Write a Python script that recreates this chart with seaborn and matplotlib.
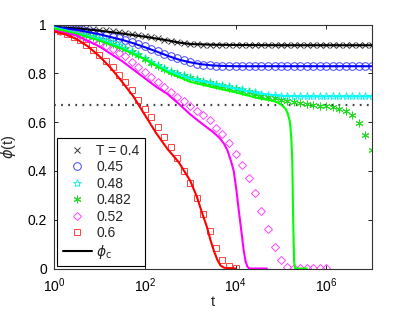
import numpy as np
import matplotlib as mpl
import matplotlib.pyplot as plt
from matplotlib.lines import Line2D
import seaborn as sns

# temperatures shown in the legend
temps = ["T = 0.4", "0.45", "0.48", "0.482", "0.52", "0.6"]
phi_c = 0.672

# simulation time grid, log10(t), 7 points per decade
log_t_sim = [0.00, 0.14, 0.29, 0.43, 0.57, 0.71, 0.86, 1.00, 1.14, 1.29,
             1.43, 1.57, 1.71, 1.86, 2.00, 2.14, 2.29, 2.43, 2.57, 2.71,
             2.86, 3.00, 3.14, 3.29, 3.43, 3.57, 3.71, 3.86, 4.00, 4.14,
             4.29, 4.43, 4.57, 4.71, 4.86, 5.00, 5.14, 5.29, 5.43, 5.57,
             5.71, 5.86, 6.00, 6.14, 6.29, 6.43, 6.57, 6.71, 6.86, 7.00]

# simulation points (markers)
sim_04 = [0.995, 0.993, 0.991, 0.989, 0.987, 0.985, 0.982, 0.979, 0.976, 0.973,
          0.970, 0.966, 0.962, 0.958, 0.953, 0.948, 0.943, 0.938, 0.933, 0.928,
          0.924, 0.921, 0.919, 0.918, 0.917, 0.917, 0.917, 0.917, 0.917, 0.917,
          0.917, 0.917, 0.917, 0.916, 0.916, 0.916, 0.916, 0.916, 0.916, 0.916,
          0.916, 0.916, 0.916, 0.916, 0.916, 0.916, 0.916, 0.916, 0.916, 0.916]
sim_045 = [0.995, 0.990, 0.986, 0.982, 0.978, 0.973, 0.968, 0.962, 0.956, 0.950,
           0.943, 0.936, 0.928, 0.920, 0.911, 0.901, 0.891, 0.880, 0.870, 0.861,
           0.853, 0.846, 0.840, 0.836, 0.833, 0.831, 0.830, 0.829, 0.829, 0.829,
           0.829, 0.829, 0.829, 0.829, 0.829, 0.829, 0.829, 0.829, 0.829, 0.829,
           0.829, 0.829, 0.829, 0.829, 0.829, 0.829, 0.829, 0.829, 0.829, 0.829]
sim_048 = [0.990, 0.986, 0.981, 0.975, 0.969, 0.962, 0.954, 0.946, 0.937, 0.927,
           0.916, 0.905, 0.893, 0.880, 0.862, 0.848, 0.834, 0.822, 0.811, 0.801,
           0.792, 0.784, 0.777, 0.770, 0.764, 0.758, 0.752, 0.746, 0.740, 0.734,
           0.728, 0.722, 0.717, 0.713, 0.710, 0.708, 0.707, 0.706, 0.706, 0.706,
           0.706, 0.706, 0.706, 0.706, 0.706, 0.706, 0.706, 0.706, 0.706, 0.706]
sim_0482 = [0.985, 0.980, 0.975, 0.969, 0.962, 0.955, 0.947, 0.938, 0.929, 0.919,
            0.909, 0.898, 0.886, 0.874, 0.858, 0.844, 0.830, 0.817, 0.806, 0.796,
            0.787, 0.779, 0.772, 0.765, 0.759, 0.753, 0.747, 0.741, 0.735, 0.729,
            0.723, 0.714, 0.709, 0.703, 0.697, 0.692, 0.687, 0.682, 0.678, 0.674,
            0.671, 0.668, 0.665, 0.660, 0.654, 0.645, 0.630, 0.597, 0.547, 0.486]
sim_052 = [0.980, 0.975, 0.970, 0.963, 0.955, 0.946, 0.936, 0.925, 0.912, 0.898,
           0.884, 0.869, 0.845, 0.826, 0.806, 0.786, 0.765, 0.744, 0.724, 0.704,
           0.685, 0.666, 0.647, 0.628, 0.609, 0.575, 0.550, 0.515, 0.470, 0.424,
           0.369, 0.308, 0.235, 0.160, 0.088, 0.036, 0.006, 0.003, 0.003, 0.003,
           0.003, 0.003, 0.003]
sim_06 = [0.980, 0.972, 0.962, 0.950, 0.935, 0.915, 0.895, 0.875, 0.850, 0.825,
          0.795, 0.765, 0.730, 0.690, 0.655, 0.620, 0.580, 0.540, 0.500, 0.451,
          0.400, 0.350, 0.288, 0.222, 0.152, 0.086, 0.036, 0.012, 0.004]

# theory curves (solid lines)
log_t_04 = [0, 0.5, 1, 1.5, 2, 2.5, 2.75, 3, 3.5, 4, 5, 6, 7]
th_04 = [0.99, 0.984, 0.975, 0.963, 0.95, 0.935, 0.926, 0.92, 0.917, 0.916, 0.915, 0.915, 0.915]
log_t_045 = [0, 0.5, 1, 1.5, 1.75, 2, 2.25, 2.5, 2.75, 3, 3.25, 3.5, 3.75, 4, 5, 6, 7]
th_045 = [0.99, 0.978, 0.96, 0.937, 0.923, 0.907, 0.89, 0.872, 0.856, 0.845, 0.837, 0.832,
          0.83, 0.829, 0.829, 0.829, 0.829]
log_t_048 = [0, 0.5, 1, 1.5, 2, 2.5, 3, 3.5, 4, 4.5, 5, 5.5, 6, 7]
th_048 = [0.988, 0.965, 0.94, 0.905, 0.86, 0.812, 0.778, 0.758, 0.737, 0.718, 0.707, 0.705,
          0.705, 0.705]
log_t_0482 = [0, 0.5, 1, 1.5, 2, 2.5, 3, 3.5, 4, 4.5, 4.75, 4.9, 5.0, 5.1, 5.15, 5.2,
              5.23, 5.25, 5.27, 5.29, 5.31, 5.57]
th_0482 = [0.985, 0.962, 0.935, 0.9, 0.858, 0.805, 0.765, 0.743, 0.722, 0.698, 0.69, 0.683,
           0.672, 0.655, 0.635, 0.6, 0.53, 0.44, 0.2, 0.03, 0.0, 0.0]
log_t_052 = [0, 0.5, 1, 1.25, 1.5, 1.75, 2, 2.25, 2.5, 2.75, 3, 3.25, 3.5, 3.65, 3.75,
             3.82, 3.9, 3.96, 4.02, 4.07, 4.13, 4.18, 4.22, 4.26, 4.3, 4.69]
th_052 = [0.975, 0.955, 0.91, 0.88, 0.85, 0.815, 0.78, 0.745, 0.715, 0.675, 0.632, 0.595,
          0.56, 0.535, 0.51, 0.485, 0.44, 0.40, 0.32, 0.24, 0.15, 0.074, 0.03, 0.008, 0.0, 0.0]
log_t_06 = [0, 0.25, 0.5, 0.75, 1, 1.25, 1.5, 1.75, 2, 2.25, 2.5, 2.75, 3, 3.15, 3.25,
            3.37, 3.45, 3.52, 3.6, 3.67, 3.75, 4.0]
th_06 = [0.972, 0.96, 0.94, 0.91, 0.87, 0.822, 0.765, 0.705, 0.63, 0.555, 0.49, 0.435,
         0.36, 0.293, 0.235, 0.17, 0.115, 0.074, 0.035, 0.012, 0.003, 0.0]

sns.set_theme(style="ticks")
mpl.rcParams.update({
    "font.family": ["Liberation Sans", "DejaVu Sans"],
    "mathtext.fontset": "dejavusans",
    "font.size": 10,
    "xtick.direction": "in",
    "ytick.direction": "in",
    "xtick.top": True,
    "ytick.right": True,
    "xtick.labelsize": 10,
    "ytick.labelsize": 10,
    "axes.edgecolor": "#333333",
    "axes.linewidth": 0.8,
})

fig = plt.figure(figsize=(4.11, 3.09), dpi=100)
ax = fig.add_axes([54 / 411, 1 - 268.5 / 309, 317.7 / 411, 244 / 309])
ax.set_xscale("log")

colors = ["black", "blue", "cyan", "lime", "magenta", "red"]
marker_colors = ["#333333", "#4444ff", "#22eeee", "#22dd22", "#ff44ff", "#ff4444"]
markers = ["x", "o", "*", (6, 2, 0), "D", "s"]
msizes = [4.5, 5.5, 6, 5.5, 4.5, 5]

sims = [sim_04, sim_045, sim_048, sim_0482, sim_052, sim_06]
lines = [(log_t_04, th_04), (log_t_045, th_045), (log_t_048, th_048),
         (log_t_0482, th_0482), (log_t_052, th_052), (log_t_06, th_06)]

# phi_c reference (dotted)
ax.axhline(phi_c, color="#444444", lw=1.6, linestyle=(0, (0.8, 2.4)), zorder=1)

for sim, (lt, th), c, mc, m, ms in zip(sims, lines, colors, marker_colors, markers, msizes):
    t_sim = 10 ** np.array(log_t_sim[:len(sim)])
    sns.lineplot(x=t_sim, y=sim, ax=ax, linestyle="", marker=m, markersize=ms,
                 markerfacecolor="none", markeredgecolor=mc, markeredgewidth=0.7,
                 color=mc, zorder=2)
    sns.lineplot(x=10 ** np.array(lt), y=th, ax=ax, color=c, lw=1.5, zorder=3)

ax.set_xlim(1, 1e7)
ax.set_ylim(0, 1)
ax.set_xticks([1, 1e2, 1e4, 1e6])
ax.xaxis.set_minor_locator(mpl.ticker.NullLocator())
ax.set_yticks([0, 0.2, 0.4, 0.6, 0.8, 1.0])
ax.set_yticklabels(["0", "0.2", "0.4", "0.6", "0.8", "1"])
ax.tick_params(length=3, width=0.6, colors="black")
ax.tick_params(axis="x", pad=6)
ax.tick_params(axis="y", pad=5)
for s in ax.spines.values():
    s.set_visible(True)

ax.set_xlabel("t", fontsize=10.5, labelpad=0)
ax.set_ylabel(r"$\phi$(t)", fontsize=10.5, labelpad=7)

handles = [Line2D([], [], linestyle="", marker=m, markersize=ms, markerfacecolor="none",
                  markeredgecolor=mc, markeredgewidth=0.7)
           for m, ms, mc in zip(markers, msizes, marker_colors)]
handles.append(Line2D([], [], color="black", lw=1.5))
labels = temps + [r"$\phi_\mathrm{c}$"]
leg = ax.legend(handles, labels, loc="lower left", bbox_to_anchor=(0.01, 0.01),
                borderaxespad=0, frameon=True, fancybox=False, edgecolor="black",
                fontsize=10, handlelength=2.1, handletextpad=0.3, labelspacing=0.18,
                borderpad=0.4)
leg.get_frame().set_linewidth(0.8)
leg.get_frame().set_alpha(1)

fig.savefig("out.png", dpi=100)
